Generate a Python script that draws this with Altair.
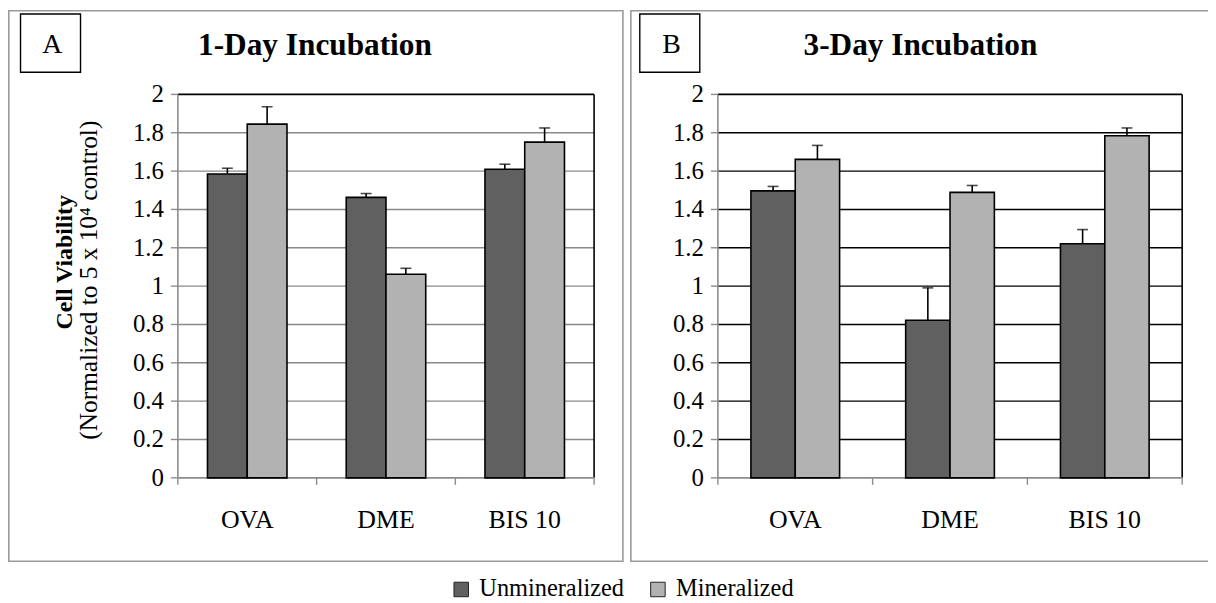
import altair as alt
import pandas as pd

# ---------------- data ----------------
categories = ["OVA", "DME", "BIS 10"]
series_names = ["Unmineralized", "Mineralized"]
series_colors = ["#606060", "#b2b2b2"]

day1_unmineralized = [1.585, 1.463, 1.610]
day1_unmineralized_err = [0.030, 0.020, 0.026]
day1_mineralized = [1.845, 1.062, 1.751]
day1_mineralized_err = [0.091, 0.031, 0.074]

day3_unmineralized = [1.497, 0.822, 1.221]
day3_unmineralized_err = [0.023, 0.169, 0.074]
day3_mineralized = [1.661, 1.489, 1.784]
day3_mineralized_err = [0.073, 0.036, 0.041]

panel_letters = ["A", "B"]
panel_titles = ["1-Day Incubation", "3-Day Incubation"]
y_title_main = "Cell Viability"
y_title_sub = "(Normalized to 5 x 10\u2074 control)"
y_ticks = [0.0, 0.2, 0.4, 0.6, 0.8, 1.0, 1.2, 1.4, 1.6, 1.8, 2.0]
y_tick_labels = ["0", "0.2", "0.4", "0.6", "0.8", "1", "1.2", "1.4", "1.6", "1.8", "2"]

# ---------------- layout / style ----------------
FONT = "Liberation Serif"
W, H = 1208, 595
Y_RANGE = [471, 85]
A_X = [171, 590]
B_X = [714.6, 1182]
AXIS_GRAY = "#8c8c8c"
BORDER_GRAY = "#9a9a9a"

ys = alt.Scale(domain=[0, 2], range=Y_RANGE, nice=False, zero=False)
dummy = alt.Data(values=[{}])


def make_panel(unmin, unmin_err, mineral, mineral_err, xr, grid_color):
    rows = []
    for i, c in enumerate(categories):
        rows.append({"category": c, "series": series_names[0], "value": unmin[i],
                     "hi": unmin[i] + unmin_err[i]})
        rows.append({"category": c, "series": series_names[1], "value": mineral[i],
                     "hi": mineral[i] + mineral_err[i]})
    df = pd.DataFrame(rows)
    cat_df = pd.DataFrame({"category": categories})
    grid_df = pd.DataFrame({"v": y_ticks[1:-1]})
    top_df = pd.DataFrame({"v": [y_ticks[-1]]})
    lab_df = pd.DataFrame({"v": y_ticks, "label": y_tick_labels})
    span_df = pd.DataFrame({"lo": [y_ticks[0]], "hi": [y_ticks[-1]]})

    xs = alt.Scale(domain=categories, range=xr, paddingInner=0, paddingOuter=0)
    offs = alt.Scale(domain=series_names, paddingInner=0, paddingOuter=0.745)
    X = alt.X("category:N", scale=xs, axis=None)
    XO = alt.XOffset("series:N", scale=offs)

    legend = alt.Legend(orient="none", legendX=444, legendY=571, direction="horizontal",
                        title=None, labelFont=FONT, labelFontSize=24.5, labelColor="black",
                        symbolType="square", symbolSize=213, symbolStrokeColor="#222",
                        symbolStrokeWidth=1, labelOffset=6, columnPadding=21,
                        labelLimit=0, padding=0)
    color = alt.Color("series:N", scale=alt.Scale(domain=series_names, range=series_colors),
                      legend=legend)

    grid = alt.Chart(grid_df).mark_rule(color=grid_color, strokeWidth=1.4).encode(
        y=alt.Y("v:Q", scale=ys, axis=None), x=alt.value(xr[0]), x2=alt.value(xr[1]))
    top = alt.Chart(top_df).mark_rule(color="black", strokeWidth=1.6).encode(
        y=alt.Y("v:Q", scale=ys, axis=None), x=alt.value(xr[0]), x2=alt.value(xr[1]))
    right = alt.Chart(span_df).mark_rule(color="black", strokeWidth=1.6).encode(
        y=alt.Y("lo:Q", scale=ys, axis=None), y2="hi:Q", x=alt.value(xr[1]))
    left_axis = alt.Chart(span_df).mark_rule(color=AXIS_GRAY, strokeWidth=1.6).encode(
        y=alt.Y("lo:Q", scale=ys, axis=None), y2="hi:Q", x=alt.value(xr[0]))
    bottom_axis = alt.Chart(span_df).mark_rule(color=AXIS_GRAY, strokeWidth=1.6).encode(
        y=alt.Y("lo:Q", scale=ys, axis=None), x=alt.value(xr[0]), x2=alt.value(xr[1]))
    y_tick_marks = alt.Chart(lab_df).mark_rule(color=AXIS_GRAY, strokeWidth=1.4).encode(
        y=alt.Y("v:Q", scale=ys, axis=None), x=alt.value(xr[0] - 7), x2=alt.value(xr[0]))
    y_labels = alt.Chart(lab_df).mark_text(font=FONT, fontSize=25, align="right",
                                           baseline="middle", color="black").encode(
        y=alt.Y("v:Q", scale=ys, axis=None), x=alt.value(xr[0] - 14), text="label:N")
    x_ticks = alt.Chart(cat_df).mark_rule(color=AXIS_GRAY, strokeWidth=1.4).encode(
        x=alt.X("category:N", scale=xs, axis=None, bandPosition=0),
        y=alt.value(Y_RANGE[0]), y2=alt.value(Y_RANGE[0] + 7))
    x_tick_end = alt.Chart(span_df).mark_rule(color=AXIS_GRAY, strokeWidth=1.4).encode(
        x=alt.value(xr[1]), y=alt.value(Y_RANGE[0]), y2=alt.value(Y_RANGE[0] + 7))
    x_labels = alt.Chart(cat_df).mark_text(font=FONT, fontSize=26, baseline="alphabetic",
                                           color="black").encode(
        x=X, y=alt.value(521), text="category:N")
    bars = alt.Chart(df).mark_bar(stroke="black", strokeWidth=1.6).encode(
        x=X, xOffset=XO, y=alt.Y("value:Q", scale=ys, axis=None), color=color)
    err = alt.Chart(df).mark_rule(color="black", strokeWidth=1.6).encode(
        x=X, xOffset=XO, y=alt.Y("value:Q", scale=ys, axis=None), y2="hi:Q")
    caps = alt.Chart(df).mark_tick(color="black", thickness=1.6, size=11,
                                   orient="horizontal").encode(
        x=X, xOffset=XO, y=alt.Y("hi:Q", scale=ys, axis=None))
    return alt.layer(grid, top, right, left_axis, bottom_axis, y_tick_marks, y_labels,
                     x_ticks, x_tick_end, x_labels, bars, err, caps)


panelA = make_panel(day1_unmineralized, day1_unmineralized_err, day1_mineralized,
                    day1_mineralized_err, A_X, "#8a8a8a")
panelB = make_panel(day3_unmineralized, day3_unmineralized_err, day3_mineralized,
                    day3_mineralized_err, B_X, "black")

# ---------------- decorations ----------------
frameA = alt.Chart(dummy).mark_rect(fillOpacity=0, stroke=BORDER_GRAY, strokeWidth=1.6).encode(
    x=alt.value(0.8), x2=alt.value(619), y=alt.value(0.8), y2=alt.value(555))
frameB = alt.Chart(dummy).mark_rect(fillOpacity=0, stroke=BORDER_GRAY, strokeWidth=1.6).encode(
    x=alt.value(627), x2=alt.value(W + 10), y=alt.value(0.8), y2=alt.value(555))
boxA = alt.Chart(dummy).mark_rect(fillOpacity=0, stroke="black", strokeWidth=1.4).encode(
    x=alt.value(12.6), x2=alt.value(73), y=alt.value(4), y2=alt.value(62.7))
boxB = alt.Chart(dummy).mark_rect(fillOpacity=0, stroke="black", strokeWidth=1.4).encode(
    x=alt.value(636), x2=alt.value(696.4), y=alt.value(4), y2=alt.value(62.7))
letterA = alt.Chart(dummy).mark_text(font=FONT, fontSize=28, baseline="alphabetic",
                                     color="black", text=panel_letters[0]).encode(
    x=alt.value(44.5), y=alt.value(43.5))
letterB = alt.Chart(dummy).mark_text(font=FONT, fontSize=28, baseline="alphabetic",
                                     color="black", text=panel_letters[1]).encode(
    x=alt.value(668), y=alt.value(43.5))
titleA = alt.Chart(dummy).mark_text(font=FONT, fontSize=31.5, fontWeight="bold",
                                    baseline="alphabetic", color="black",
                                    text=panel_titles[0]).encode(
    x=alt.value(309), y=alt.value(45))
titleB = alt.Chart(dummy).mark_text(font=FONT, fontSize=31.5, fontWeight="bold",
                                    baseline="alphabetic", color="black",
                                    text=panel_titles[1]).encode(
    x=alt.value(918.5), y=alt.value(45))
ytitle1 = alt.Chart(dummy).mark_text(font=FONT, fontSize=24, fontWeight="bold", angle=270,
                                     baseline="alphabetic", color="black",
                                     text=y_title_main).encode(
    x=alt.value(64), y=alt.value(254))
ytitle2 = alt.Chart(dummy).mark_text(font=FONT, fontSize=25.5, angle=270,
                                     baseline="alphabetic", color="black",
                                     text=y_title_sub).encode(
    x=alt.value(90), y=alt.value(272))

decor = alt.layer(frameA, frameB, boxA, boxB, letterA, letterB, titleA, titleB,
                  ytitle1, ytitle2)

chart = alt.layer(decor, panelA, panelB).resolve_scale(
    x="independent", xOffset="independent"
).properties(
    width=W, height=H, padding=0,
    autosize=alt.AutoSizeParams(type="none"),
    background="white",
).configure_view(stroke="transparent")

chart.save("out.html", embed_options={"renderer": "svg", "actions": False})
